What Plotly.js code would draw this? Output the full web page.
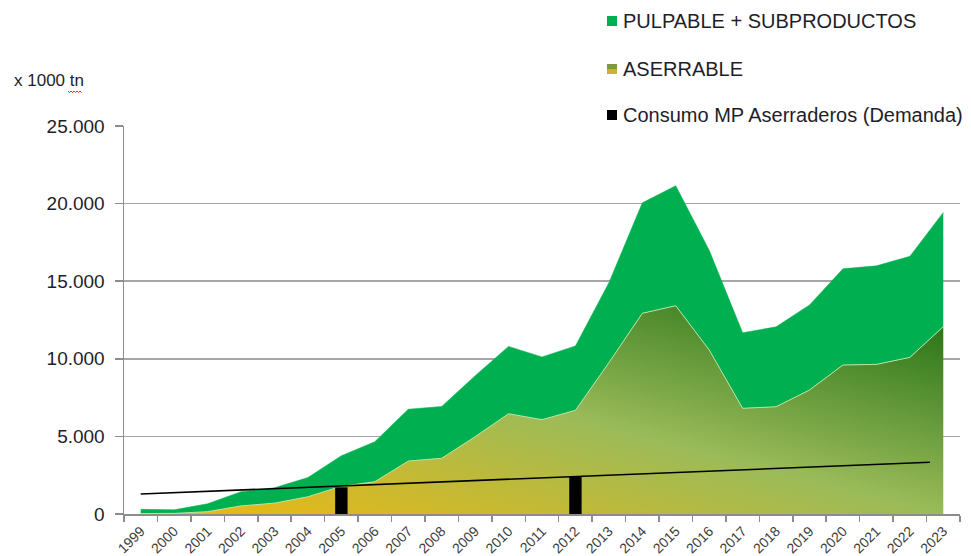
<!DOCTYPE html>
<html>
<head>
<meta charset="utf-8">
<script src="https://cdn.plot.ly/plotly-3.0.1.min.js"></script>
<style>
html,body{margin:0;padding:0;background:#ffffff;}
#chart{width:971px;height:556px;}
</style>
</head>
<body>
<div id="chart"></div>
<script>
// ---- data (x 1000 tn) ----
const years = [1999,2000,2001,2002,2003,2004,2005,2006,2007,2008,2009,2010,2011,2012,2013,2014,2015,2016,2017,2018,2019,2020,2021,2022,2023];
const yearLabels = ["1999","2000","2001","2002","2003","2004","2005","2006","2007","2008","2009","2010","2011","2012","2013","2014","2015","2016","2017","2018","2019","2020","2021","2022","2023"];
const aserrable = [30,40,150,520,700,1110,1780,2080,3410,3590,4980,6460,6080,6680,9750,12930,13420,10570,6810,6910,7990,9600,9640,10090,12070];
const pulpable  = [270,230,510,920,990,1240,1970,2580,3340,3340,3920,4340,4040,4150,5150,7120,7730,6430,4870,5150,5480,6200,6350,6510,7360];
const demandaYears = [2005, 2012];
const demanda = [1720, 2400];
const trendYears = [1999, 2022.6];
const trendValues = [1290, 3330];
const yTicks = [0,5000,10000,15000,20000,25000];
const yTickLabels = ["0","5.000","10.000","15.000","20.000","25.000"];
const seriesNames = ["PULPABLE + SUBPRODUCTOS","ASERRABLE","Consumo MP Aserraderos (Demanda)"];

const FONT = "Liberation Sans, Arial, sans-serif";
const AXC = "#8C8C8C";

const data = [
  {
    type:"scatter", mode:"lines", name:seriesNames[1],
    x:years, y:aserrable, stackgroup:"s",
    line:{color:"#B9E2A2", width:1},
    fillgradient:{type:"horizontal", colorscale:[[0,"#F0B80E"],[0.5,"#9BBB59"],[1,"#1F6E12"]]},
    showlegend:false, hoverinfo:"skip"
  },
  {
    type:"scatter", mode:"lines", name:seriesNames[0],
    x:years, y:pulpable, stackgroup:"s",
    line:{color:"#00B050", width:0.5},
    fillcolor:"#00B050",
    showlegend:false, hoverinfo:"skip"
  },
  {
    type:"bar", name:seriesNames[2],
    x:demandaYears, y:demanda, xaxis:"x2", yaxis:"y2",
    width:0.37, marker:{color:"#000000", line:{width:0}},
    showlegend:false, hoverinfo:"skip"
  },
  {
    type:"scatter", mode:"lines", name:"trend",
    x:trendYears, y:trendValues, xaxis:"x2", yaxis:"y2",
    line:{color:"#000000", width:1.6},
    showlegend:false, hoverinfo:"skip"
  }
];

function px2x(p){ return (p-124)/836; }
function px2y(p){ return (514-p)/388; }

const legendRows = [
  {text:seriesNames[0], y:21},
  {text:seriesNames[1], y:69},
  {text:seriesNames[2], y:115}
];

const annotations = legendRows.map(r => ({
  xref:"paper", yref:"paper", x:px2x(621), y:px2y(r.y),
  xanchor:"left", yanchor:"middle", showarrow:false,
  text:r.text, font:{family:FONT, size:20, color:"#1E1E2A"}
}));
annotations.push({
  xref:"paper", yref:"paper", x:px2x(12), y:px2y(80),
  xanchor:"left", yanchor:"middle", showarrow:false,
  text:"x 1000 tn", font:{family:FONT, size:17, color:"#1E1E2A"}
});

function sq(yc, color, y0, y1){
  return {type:"rect", xref:"paper", yref:"paper",
    xsizemode:"pixel", ysizemode:"pixel",
    xanchor:px2x(612), yanchor:px2y(yc),
    x0:-5, x1:5, y0:y0, y1:y1,
    fillcolor:color, line:{width:0}};
}
const shapes = [
  sq(21, "#00B050", -5, 5),
  sq(69, "#7E9A3C", 0, 5),
  sq(69, "#C8B236", -5, 0),
  sq(115, "#000000", -5, 5),
  {type:"path", xref:"paper", yref:"paper", xsizemode:"pixel", ysizemode:"pixel",
   xanchor:px2x(68), yanchor:px2y(91),
   path:"M0,0 L1.5,-1.5 L3,0 L4.5,-1.5 L6,0 L7.5,-1.5 L9,0 L10.5,-1.5 L12,0 L13.5,-1.5",
   line:{color:"#E0302A", width:1}}
];

const layout = {
  width:971, height:556,
  margin:{l:124, r:11, t:126, b:42, pad:0},
  paper_bgcolor:"#ffffff", plot_bgcolor:"rgba(0,0,0,0)",
  font:{family:FONT},
  showlegend:false,
  xaxis:{
    range:[1998.5, 2023.5], tickvals:years, ticktext:yearLabels,
    tickangle:-45, ticks:"", showgrid:false, zeroline:false,
    showline:true, linecolor:AXC, linewidth:1.5,
    tickfont:{family:FONT, size:14, color:"#3C3C3C"},
    ticklabelstandoff:2,
    minor:{tick0:1998.5, dtick:1, ticks:"outside", ticklen:6, tickcolor:AXC, tickwidth:1.5, showgrid:false},
    fixedrange:true
  },
  yaxis:{
    range:[0,25000], tickvals:yTicks, ticktext:yTickLabels,
    ticks:"outside", ticklen:8, tickcolor:AXC, tickwidth:1.5,
    showgrid:true, gridcolor:"#A6A6A6", gridwidth:1.5,
    showline:true, linecolor:AXC, linewidth:1.5, zeroline:false,
    tickfont:{family:FONT, size:19, color:"#1E1E2A"},
    ticklabelstandoff:6, fixedrange:true
  },
  xaxis2:{overlaying:"x", anchor:"y2", range:[1998.5, 2023.5], visible:false, fixedrange:true},
  yaxis2:{overlaying:"y", anchor:"x2", range:[0,25000], visible:false, fixedrange:true},
  annotations:annotations,
  shapes:shapes
};

Plotly.newPlot("chart", data, layout, {displayModeBar:false, staticPlot:true}).then(function(gd){
  // diagonal gradient across the area's bounding box: yellow bottom-left -> dark green top-right
  gd.querySelectorAll("linearGradient").forEach(function(g){
    g.setAttribute("gradientUnits","objectBoundingBox");
    g.setAttribute("x1","1"); g.setAttribute("y1","0");
    g.setAttribute("x2","0"); g.setAttribute("y2","1");
  });
});
</script>
</body>
</html>
